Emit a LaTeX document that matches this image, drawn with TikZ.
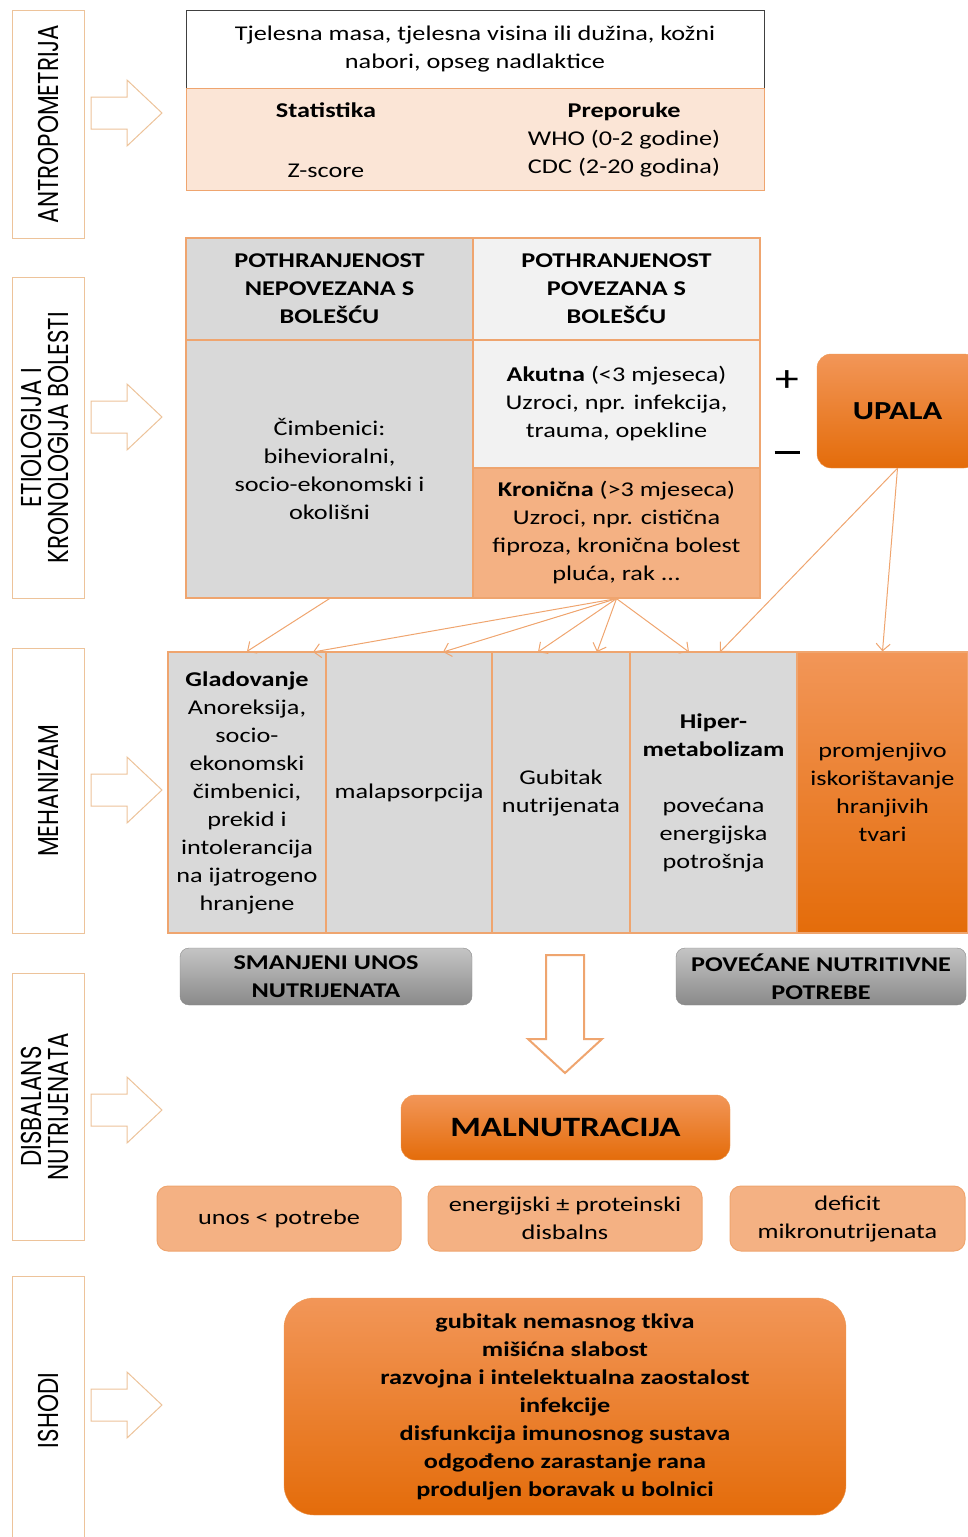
\documentclass[tikz,border=0pt]{standalone}
\usepackage{fontspec}
\setmainfont{Carlito}[FakeStretch=1.25]
\newfontfamily\lblfont{Poppins}
\usetikzlibrary{arrows.meta}

\definecolor{peach}{HTML}{FBE5D6}
\definecolor{apricot}{HTML}{F4B183}
\definecolor{lgrey}{HTML}{D9D9D9}
\definecolor{vlgrey}{HTML}{F2F2F2}
\definecolor{orline}{HTML}{EFA56F}
\definecolor{tanline}{HTML}{EDC39A}
\definecolor{darkline}{HTML}{404040}
\definecolor{orA}{HTML}{F29658}
\definecolor{orB}{HTML}{E46C0A}
\definecolor{greyA}{HTML}{C4C4C4}
\definecolor{greyB}{HTML}{8A8A8A}

% rotated text for the stage labels
\newcommand{\stagetxt}[1]{\rotatebox{90}{\scalebox{1}[1.25]{\lblfont\fontsize{23}{18.5}\selectfont #1}}}

\begin{document}
\begin{tikzpicture}[x=1pt,y=-1pt]
 \tikzstyle{txt}=[font=\fontsize{21}{28}\selectfont, align=center, inner sep=0pt, text=black]
 \tikzstyle{hdr}=[txt, font=\fontsize{21}{28}\selectfont\bfseries]
 \tikzstyle{stage}=[draw=tanline, line width=1pt, fill=white, minimum width=72pt, inner sep=0pt]
 \tikzstyle{cell}=[txt, draw=orline, line width=1.2pt]
 \tikzstyle{hollow}=[draw=tanline, fill=white, line width=1pt]
 \tikzstyle{arr}=[draw=orline, line width=1pt, -{Straight Barb[length=7pt,width=14pt]}]
 \tikzstyle{orbox}=[hdr, rounded corners=14pt, top color=orA, bottom color=orB, draw=orB!70!white]
 \tikzstyle{greybox}=[hdr, rounded corners=9pt, top color=greyA, bottom color=greyB, draw=greyB]
 \tikzstyle{softbox}=[txt, rounded corners=11pt, fill=apricot, draw=orline, line width=1pt]
\useasboundingbox (0,0) rectangle (968,1537);

% stage labels on the left
\draw (48,124) node[stage, minimum height=228pt] (antro) {\stagetxt{ANTROPOMETRIJA}};
\draw (48,437.5) node[stage, minimum height=321pt] (etio) {\stagetxt{\begin{tabular}{@{}c@{}}ETIOLOGIJA I\\KRONOLOGIJA BOLESTI\end{tabular}}};
\draw (48,790.5) node[stage, minimum height=285pt] (meha) {\stagetxt{MEHANIZAM}};
\draw (48,1106.5) node[stage, minimum height=267pt] (disb) {\stagetxt{\begin{tabular}{@{}c@{}}DISBALANS\\NUTRIJENATA\end{tabular}}};
\draw (48,1410.5) node[stage, minimum height=269pt] (ishod) {\stagetxt{ISHODI}};
\foreach \c in {113,417,790,1110,1405}
  \draw[hollow] (91,\c-16) -- (127,\c-16) -- (127,\c-33) -- (162,\c) -- (127,\c+33) -- (127,\c+16) -- (91,\c+16) -- cycle;

% antropometrija
\draw (475,49) node[txt, draw=darkline, line width=1pt, fill=white, minimum width=578pt, minimum height=78pt] (mjere) {Tjelesna masa, tjelesna visina ili dužina, kožni\\nabori, opseg nadlaktice};
\draw (475,139) node[txt, draw=orline, line width=1pt, fill=peach, minimum width=578pt, minimum height=102pt] (ocjena) {};
\draw (326,140) node[txt] (stat) {\textbf{Statistika}\\[32pt]Z-score};
\draw (624,140) node[txt] (prep) {\textbf{Preporuke}\\WHO (0-2 godine)\\CDC (2-20 godina)};

% etiologija
\draw (329.5,289) node[cell, hdr, fill=lgrey, minimum width=287pt, minimum height=102pt] (nepH) {POTHRANJENOST\\NEPOVEZANA S\\BOLEŠĆU};
\draw (616.5,289) node[cell, hdr, fill=vlgrey, minimum width=287pt, minimum height=102pt] (povH) {POTHRANJENOST\\POVEZANA S\\BOLEŠĆU};
\draw (329.5,469) node[cell, fill=lgrey, minimum width=287pt, minimum height=258pt] (nep) {Čimbenici:\\bihevioralni,\\socio-ekonomski i\\okolišni};
\draw (616.5,404) node[cell, fill=vlgrey, minimum width=287pt, minimum height=128pt] (akut) {\textbf{Akutna} (<3 mjeseca)\\Uzroci, npr. infekcija,\\trauma, opekline};
\draw (616.5,533) node[cell, fill=apricot, minimum width=287pt, minimum height=130pt] (kron) {\textbf{Kronična} (>3 mjeseca)\\Uzroci, npr. cistična\\fiproza, kronična bolest\\pluća, rak ...};
\draw (787,381) node[txt, font=\fontsize{38}{38}\selectfont] (plus) {+};
\draw (787,452) node[txt] (minus) {\rule{25pt}{3pt}};
\draw (897.5,411) node[orbox, minimum width=161pt, minimum height=114pt, font=\fontsize{26}{30}\selectfont\bfseries] (upala) {UPALA};

% mehanizam
\draw (247,792.5) node[cell, fill=lgrey, minimum width=158pt, minimum height=281pt] (glad) {\textbf{Gladovanje}\\Anoreksija,\\socio-\\ekonomski\\čimbenici,\\prekid i\\intolerancija\\na ijatrogeno\\hranjene};
\draw (409,792.5) node[cell, fill=lgrey, minimum width=166pt, minimum height=281pt] (malap) {malapsorpcija};
\draw (561,792.5) node[cell, fill=lgrey, minimum width=138pt, minimum height=281pt] (gubit) {Gubitak\\nutrijenata};
\draw (713.5,792.5) node[cell, fill=lgrey, minimum width=167pt, minimum height=281pt] (hiper) {\textbf{Hiper-}\\\textbf{metabolizam}\\[28pt]povećana\\energijska\\potrošnja};
\draw (882.5,792.5) node[cell, top color=orA, bottom color=orB, minimum width=171pt, minimum height=281pt] (promj) {promjenjivo\\iskorištavanje\\hranjivih\\tvari};
\coordinate (glad2) at (313,652);
\coordinate (malap1) at (443,652);
\coordinate (gubit1) at (538,652);
\coordinate (gubit2) at (597,652);
\coordinate (hiper1) at (689,652);
\coordinate (hiper2) at (720,652);
\draw[arr] (nep.south) -- (glad.north);
\draw[arr] (kron.south) -- (glad2);
\draw[arr] (kron.south) -- (malap1);
\draw[arr] (kron.south) -- (gubit1);
\draw[arr] (kron.south) -- (gubit2);
\draw[arr] (kron.south) -- (hiper1);
\draw[arr] (upala.south) -- (hiper2);
\draw[arr] (upala.south) -- (promj.north);

% disbalans
\draw (326,976.5) node[greybox, minimum width=292pt, minimum height=57pt] (smanj) {SMANJENI UNOS\\NUTRIJENATA};
\draw (821,976.5) node[greybox, minimum width=290pt, minimum height=57pt] (povec) {POVEĆANE NUTRITIVNE\\POTREBE};
\draw[draw=orline, fill=white, line width=2pt] (546,955) -- (584,955) -- (584,1039) -- (602,1039) -- (565,1073) -- (528,1039) -- (546,1039) -- cycle;
\draw (565.5,1127.5) node[orbox, minimum width=329pt, minimum height=65pt, font=\fontsize{28}{30}\selectfont\bfseries] (maln) {MALNUTRACIJA};
\draw (279,1218.5) node[softbox, minimum width=244pt, minimum height=65pt] (unos) {unos < potrebe};
\draw (565,1218.5) node[softbox, minimum width=274pt, minimum height=65pt] (energ) {energijski ± proteinski\\disbalns};
\draw (847.5,1218.5) node[softbox, minimum width=235pt, minimum height=65pt] (mikro) {deficit\\mikronutrijenata};

% ishodi
\draw (565,1406.5) node[orbox, rounded corners=30pt, minimum width=562pt, minimum height=217pt] (posljed) {gubitak nemasnog tkiva\\mišićna slabost\\razvojna i intelektualna zaostalost\\infekcije\\disfunkcija imunosnog sustava\\odgođeno zarastanje rana\\produljen boravak u bolnici};
\end{tikzpicture}
\end{document}
